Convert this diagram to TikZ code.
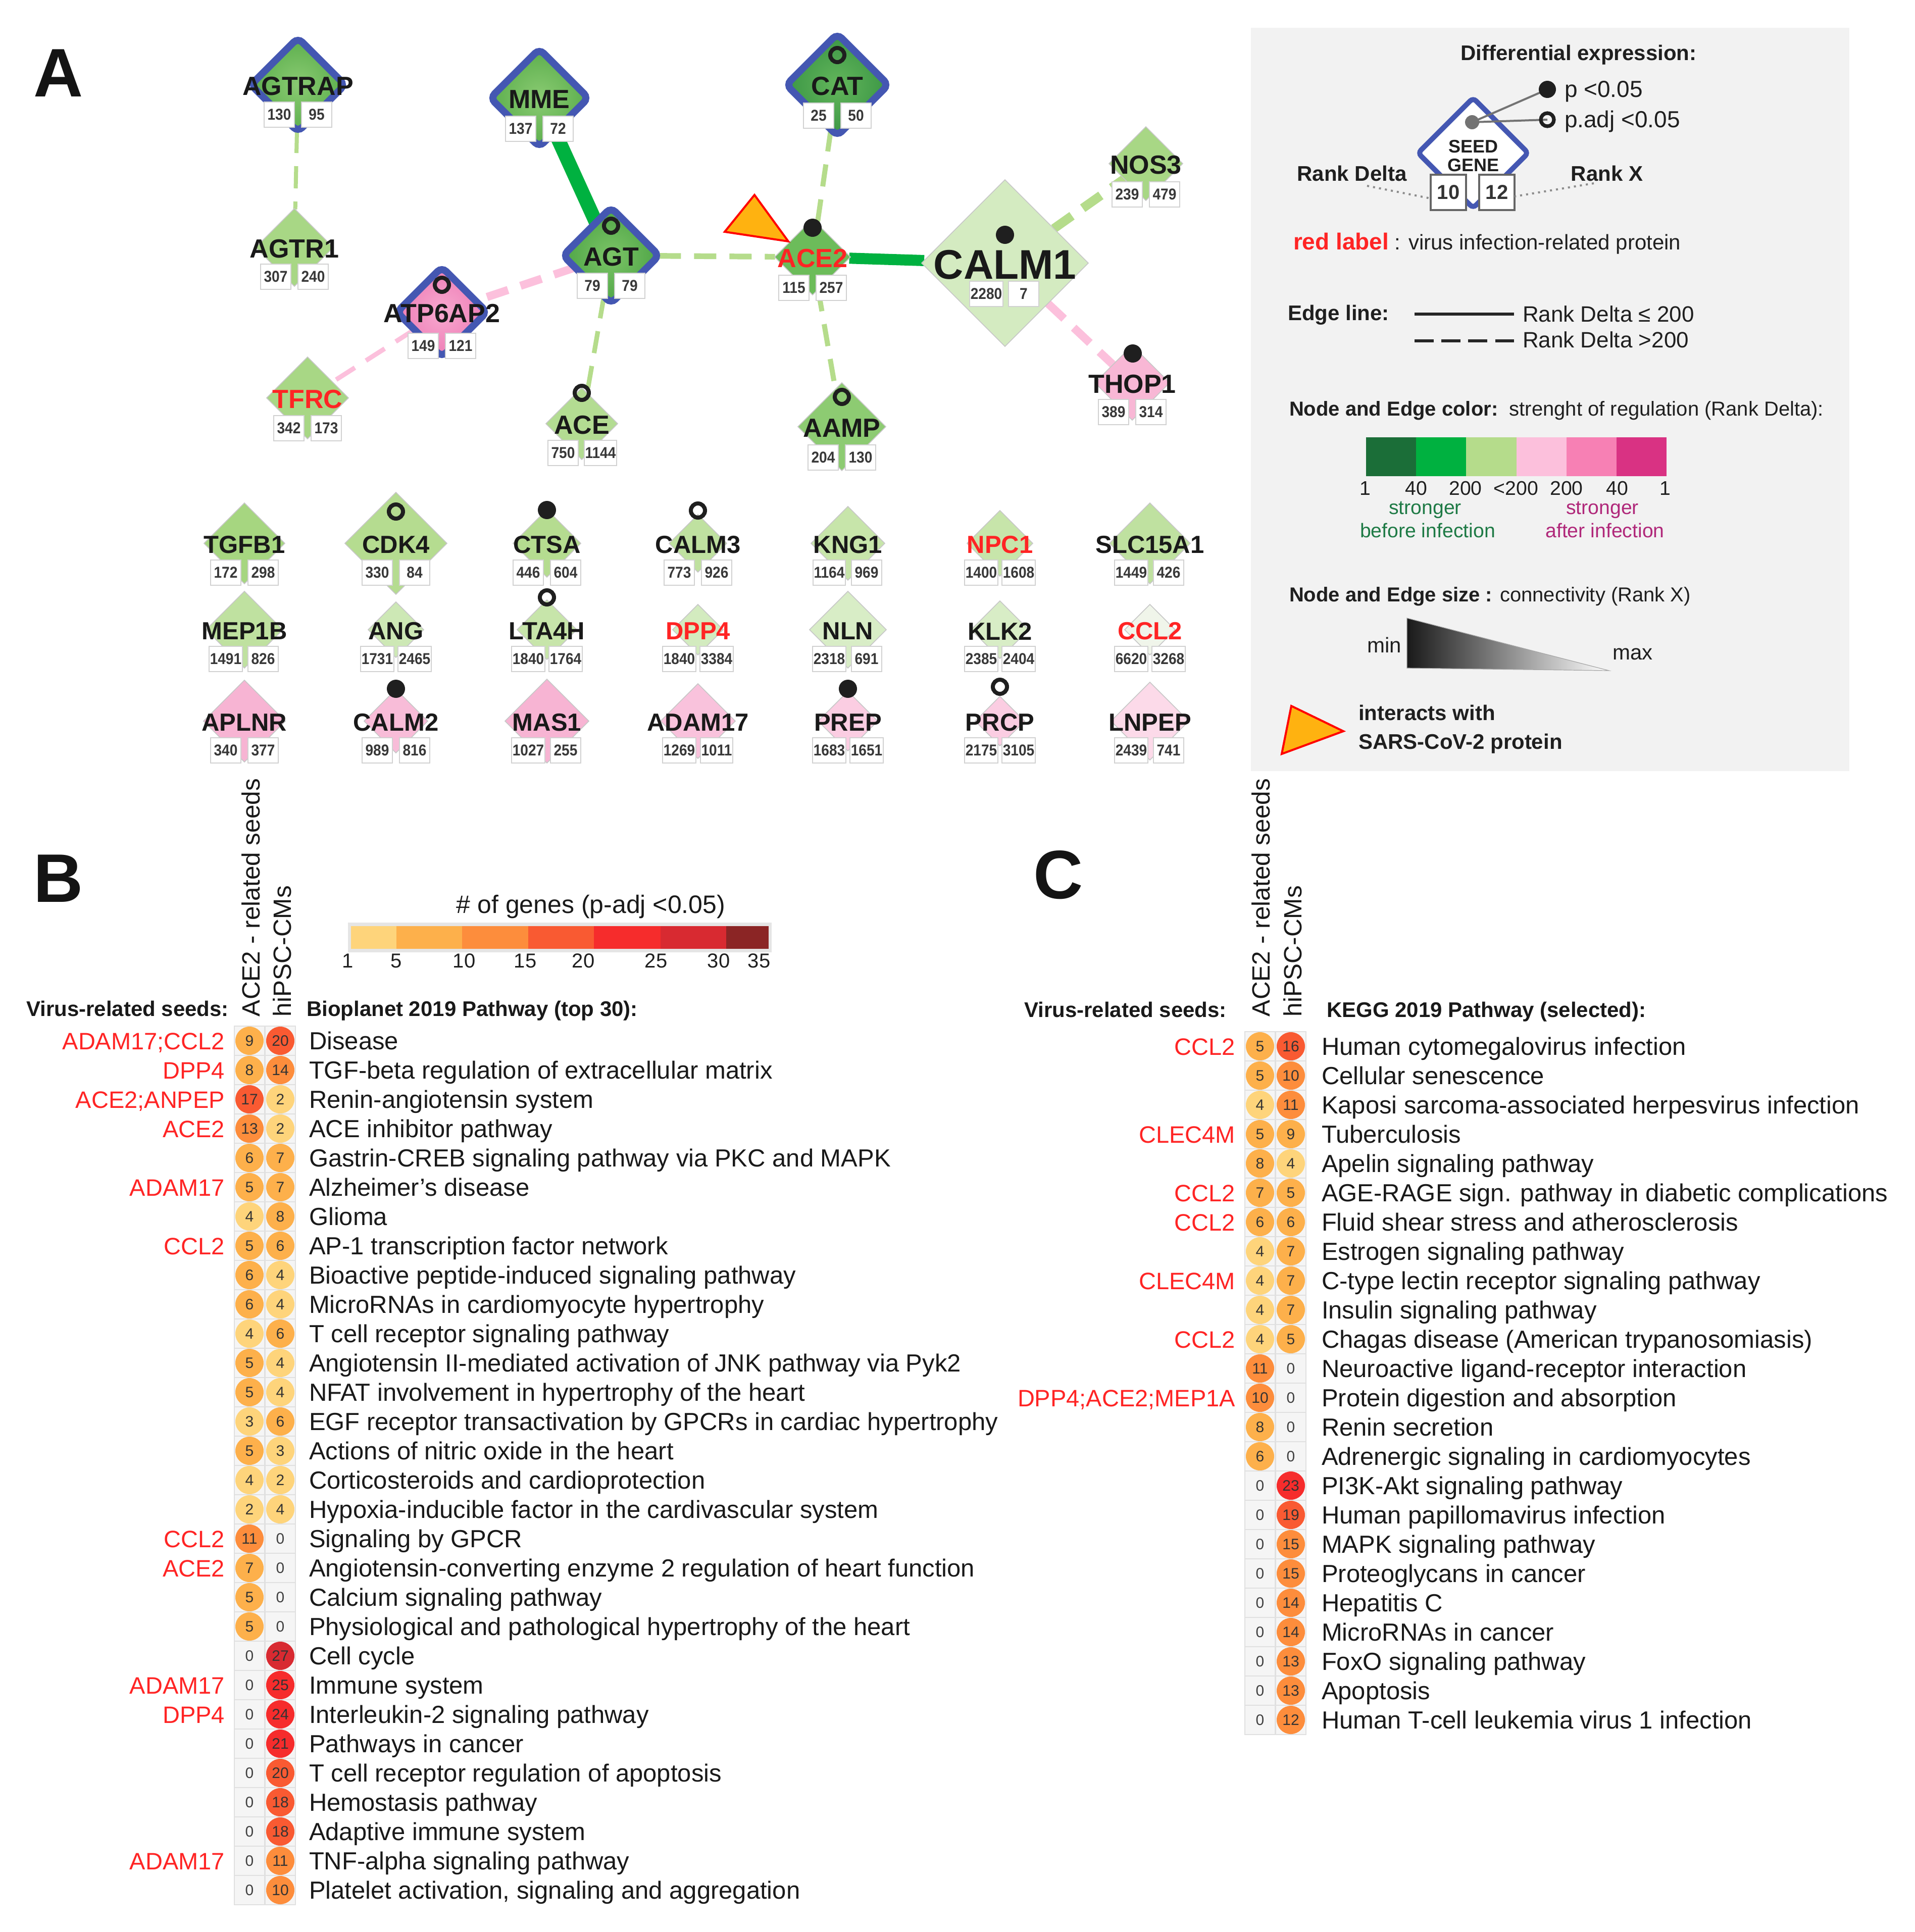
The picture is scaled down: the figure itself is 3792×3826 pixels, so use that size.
\documentclass[tikz,border=0pt]{standalone}
\usepackage{fontspec}
\setmainfont{Liberation Sans}
\newfontfamily\narrowfont[FakeStretch=0.9]{Liberation Sans}
\usetikzlibrary{shapes.geometric,backgrounds}
\pgfdeclarelayer{bottom}
\pgfsetlayers{bottom,background,main}
\newcommand\fsz[1]{\fontsize{#1pt}{#1pt}\selectfont}
\definecolor{seedblue}{HTML}{4457B2}
\definecolor{dkgreen}{HTML}{1B6E38}
\definecolor{mdgreen}{HTML}{00B140}
\definecolor{ltgreen}{HTML}{B5DC8B}
\definecolor{ltpink}{HTML}{FCC0DC}
\definecolor{mdpink}{HTML}{F780B4}
\definecolor{magent}{HTML}{D93283}
\definecolor{vred}{HTML}{FF2424}
\definecolor{legbg}{HTML}{F2F2F2}
\definecolor{orng}{HTML}{FFB210}
\definecolor{befgreen}{HTML}{1E7A45}
\definecolor{aftmag}{HTML}{B0287A}
\definecolor{h1}{HTML}{FED47B}
\definecolor{h2}{HTML}{FDB04B}
\definecolor{h3}{HTML}{FD8D3C}
\definecolor{h4}{HTML}{F95A32}
\definecolor{h5}{HTML}{F62C2C}
\definecolor{h6}{HTML}{D82A31}
\definecolor{h7}{HTML}{8B2525}
\definecolor{sg1}{HTML}{8ACB72}
\definecolor{sg2}{HTML}{5CAE4D}
\definecolor{ct1}{HTML}{63B65B}
\definecolor{ct2}{HTML}{3B9645}
\definecolor{ag1}{HTML}{7BC466}
\definecolor{ag2}{HTML}{4FA547}
\definecolor{pk1}{HTML}{F7A9CF}
\definecolor{pk2}{HTML}{EE7DB6}
\definecolor{gA}{HTML}{A6D680}
\definecolor{gB}{HTML}{B5DC90}
\definecolor{gC}{HTML}{BFE1A0}
\definecolor{gD}{HTML}{C7E5AA}
\definecolor{gE}{HTML}{CDE8B5}
\definecolor{gF}{HTML}{D3EBBF}
\definecolor{gG}{HTML}{D8EDC6}
\definecolor{gH}{HTML}{F0F5EA}
\definecolor{pA}{HTML}{F7B4D3}
\definecolor{pB}{HTML}{F8BCD8}
\definecolor{pC}{HTML}{F9C2DC}
\definecolor{pD}{HTML}{FBCDE2}
\definecolor{pE}{HTML}{FCDAE9}
\definecolor{nA}{HTML}{A8D785}
\definecolor{nB}{HTML}{B3DC92}
\definecolor{nC}{HTML}{6CBC5A}
\definecolor{nD}{HTML}{8DCB72}
\definecolor{nE}{HTML}{F8B7D5}
\definecolor{nF}{HTML}{D4EBC1}

\tikzset{
  every node/.style={inner sep=0pt, outer sep=0pt},
  seed/.style={diamond, aspect=1, draw=seedblue, line width=3.5pt, rounded corners=3pt},
  nonseed/.style={diamond, aspect=1, draw=black!22, line width=0.4pt},
  glab/.style={font=\fsz{13}\bfseries, text=black!90},
  glabg/.style={font=\fsz{12.25}\bfseries, text=black!90},
  numbox/.style={draw=black!18, fill=white, line width=0.5pt, minimum width=15pt, minimum height=12.5pt, inner xsep=0.4pt, font=\narrowfont\fsz{7.8}\bfseries, text=black!78},
  pdot/.style={circle, fill=black!88, minimum size=9pt},
  padj/.style={circle, draw=black!88, line width=2pt, minimum size=7pt},
  dashedge/.style={dash pattern=on 11pt off 6.5pt},
  lgt/.style={font=\fsz{10.5}, text=black!88},
  lgb/.style={font=\fsz{10.5}\bfseries, text=black!88},
  hbg/.style={rectangle, minimum width=15pt, minimum height=14.5pt, fill=black!4, draw=black!12, line width=0.4pt},
  hcirc/.style={circle, minimum size=14pt, font=\fsz{7.5}, text=black!80},
  zerotxt/.style={font=\fsz{7.5}, text=black!75},
  seedtxt/.style={font=\fsz{11.75}, text=vred},
  pwtxt/.style={font=\fsz{12.25}, text=black!90},
  rothead/.style={rotate=90, font=\fsz{12.4}, text=black!90},
  hdr/.style={font=\fsz{10.5}\bfseries, text=black!90},
  panel/.style={font=\fsz{34}\bfseries, text=black!92}
}

\newcommand\mkdia[6]{\node[#5, minimum size=#4*0.5pt-1.5pt, #6] (#1) at (#2,#3) {};}
\newcommand\mkinfo[8]{%
  \node[#5] (#1-l) at (#2,#3+3) {#4};
  \node[numbox] (#1-d) at (#2-37,#3+#8) {#6};
  \node[numbox] (#1-x) at (#2+37,#3+#8) {#7};}
\newcommand\gridgene[8]{%
  \mkdia{#1}{#2}{#3}{#4}{nonseed}{fill=#5}
  \mkinfo{#1}{#2}{#3}{#6}{glabg}{#7}{#8}{58}}
\newcommand\mkcell[4]{%
  \node[hbg] (#1g) at (#2,#3) {};
  \ifnum#4=0\relax
    \node[zerotxt] (#1) at (#2,#3) {0};
  \else
    \ifnum#4<5 \def\hc{h1}\else\ifnum#4<10 \def\hc{h2}\else\ifnum#4<16 \def\hc{h3}\else\ifnum#4<21 \def\hc{h4}\else\ifnum#4<26 \def\hc{h5}\else\ifnum#4<31 \def\hc{h6}\else\def\hc{h7}\fi\fi\fi\fi\fi\fi
    \node[hcirc, fill=\hc] (#1) at (#2,#3) {#4};
  \fi}

\begin{document}
\begin{tikzpicture}[x=0.25pt, y=-0.25pt]
\useasboundingbox (0,0) rectangle (3792,3826);
\begin{pgfonlayer}{bottom}
\fill[white] (0,0) rectangle (3792,3826);
\end{pgfonlayer}

% ---------------- Panel A ----------------
\node[panel, anchor=base west] (labA) at (66,191) {A};

% seeds
\mkdia{AGTRAP}{590}{168}{96}{seed}{inner color=sg1, outer color=sg2}
\mkinfo{AGTRAP}{590}{168}{AGTRAP}{glab}{130}{95}{59}
\mkdia{MME}{1068}{194}{100}{seed}{inner color=sg1, outer color=sg2}
\mkinfo{MME}{1068}{194}{MME}{glab}{137}{72}{61}
\mkdia{CAT}{1658}{168}{104}{seed}{inner color=ct1, outer color=ct2}
\mkinfo{CAT}{1658}{168}{CAT}{glab}{25}{50}{61}
\mkdia{AGT}{1210}{506}{98}{seed}{inner color=ag1, outer color=ag2}
\mkinfo{AGT}{1210}{506}{AGT}{glab}{79}{79}{60}
\mkdia{ATP6AP2}{875}{618}{92}{seed}{inner color=pk1, outer color=pk2}
\mkinfo{ATP6AP2}{875}{618}{ATP6AP2}{glab}{149}{121}{67}
% non seeds
\mkdia{AGTR1}{583}{490}{80}{nonseed}{fill=nA}
\mkinfo{AGTR1}{583}{490}{AGTR1}{glab}{307}{240}{58}
\mkdia{TFRC}{609}{788}{84}{nonseed}{fill=nA}
\mkinfo{TFRC}{609}{788}{\color{vred}TFRC}{glab}{342}{173}{60}
\mkdia{ACE}{1152}{839}{74}{nonseed}{fill=nB}
\mkinfo{ACE}{1152}{839}{ACE}{glab}{750}{1144}{58}
\mkdia{ACE2}{1609}{509}{78}{nonseed}{fill=nC}
\mkinfo{ACE2}{1609}{509}{\color{vred}ACE2}{glab}{115}{257}{61}
\mkdia{AAMP}{1667}{845}{90}{nonseed}{fill=nD}
\mkinfo{AAMP}{1667}{845}{AAMP}{glab}{204}{130}{61}
\mkdia{NOS3}{2269}{324}{76}{nonseed}{fill=nA}
\mkinfo{NOS3}{2269}{324}{NOS3}{glab}{239}{479}{61}
\mkdia{THOP1}{2242}{758}{77}{nonseed}{fill=nE}
\mkinfo{THOP1}{2242}{758}{THOP1}{glab}{389}{314}{58}
\mkdia{CALM1}{1990}{521}{168}{nonseed}{fill=nF}
\mkinfo{CALM1}{1990}{521}{\fsz{20.5}CALM1}{glab}{2280}{7}{61}

\node[padj] (AGT-m) at (1210,447) {};
\node[padj] (CAT-m) at (1658,109) {};
\node[padj] (ATP6AP2-m) at (875,564) {};
\node[padj] (ACE-m) at (1152,778) {};
\node[padj] (AAMP-m) at (1667,786) {};
\node[pdot] (ACE2-m) at (1609,451) {};
\node[pdot] (CALM1-m) at (1990,465) {};
\node[pdot] (THOP1-m) at (2243,700) {};

\draw[fill=orng, draw=red, line width=1pt, line join=miter] (1494,386) -- (1435,459) -- (1561,478) -- cycle;

\begin{scope}[on background layer]
\draw[ltgreen, line width=2pt, dashedge] (AGTRAP) -- (AGTR1);
\draw[mdgreen, line width=7pt] (MME) -- (AGT);
\draw[ltpink, line width=4pt, dashedge] (AGT) -- (ATP6AP2);
\draw[ltpink, line width=2.3pt, dashedge] (ATP6AP2) -- (TFRC);
\draw[ltgreen, line width=2.3pt, dashedge] (AGT) -- (ACE);
\draw[ltgreen, line width=2.8pt, dashedge] (AGT) -- (ACE2);
\draw[ltgreen, line width=2.5pt, dashedge] (CAT) -- (ACE2);
\draw[ltgreen, line width=2.5pt, dashedge] (ACE2) -- (AAMP);
\draw[mdgreen, line width=5.5pt] (ACE2) -- (CALM1);
\draw[ltgreen, line width=4.5pt, dashedge] (CALM1) -- (NOS3);
\draw[ltpink, line width=4pt, dashedge] (CALM1) -- (THOP1);
\end{scope}

% grid
\gridgene{TGFB1}{484}{1076}{83}{gA}{TGFB1}{172}{298}
\gridgene{CDK4}{784}{1076}{104}{gB}{CDK4}{330}{84}
\gridgene{CTSA}{1083}{1076}{70}{gB}{CTSA}{446}{604}
\gridgene{CALM3}{1382}{1076}{60}{gC}{CALM3}{773}{926}
\gridgene{KNG1}{1679}{1076}{76}{gD}{KNG1}{1164}{969}
\gridgene{NPC1}{1980}{1076}{68}{gD}{\color{vred}NPC1}{1400}{1608}
\gridgene{SLC15A1}{2277}{1076}{83}{gC}{SLC15A1}{1449}{426}
\gridgene{MEP1B}{484}{1247}{79}{gC}{MEP1B}{1491}{826}
\gridgene{ANG}{784}{1247}{58}{gE}{ANG}{1731}{2465}
\gridgene{LTA4H}{1083}{1247}{62}{gD}{LTA4H}{1840}{1764}
\gridgene{DPP4}{1382}{1247}{53}{gF}{\color{vred}DPP4}{1840}{3384}
\gridgene{NLN}{1679}{1247}{79}{gG}{NLN}{2318}{691}
\gridgene{KLK2}{1980}{1247}{60}{gG}{KLK2}{2385}{2404}
\gridgene{CCL2}{2277}{1247}{53}{gH}{\color{vred}CCL2}{6620}{3268}
\gridgene{APLNR}{484}{1428}{84}{pA}{APLNR}{340}{377}
\gridgene{CALM2}{784}{1428}{66}{pB}{CALM2}{989}{816}
\gridgene{MAS1}{1083}{1428}{86}{pA}{MAS1}{1027}{255}
\gridgene{ADAM17}{1382}{1428}{77}{pC}{ADAM17}{1269}{1011}
\gridgene{PREP}{1679}{1428}{62}{pD}{PREP}{1683}{1651}
\gridgene{PRCP}{1980}{1428}{52}{pD}{PRCP}{2175}{3105}
\gridgene{LNPEP}{2277}{1428}{80}{pE}{LNPEP}{2439}{741}
\node[padj] (CDK4-m) at (784,1013) {};
\node[pdot] (CTSA-m) at (1083,1010) {};
\node[padj] (CALM3-m) at (1382,1011) {};
\node[padj] (LTA4H-m) at (1083,1183) {};
\node[pdot] (CALM2-m) at (784,1364) {};
\node[pdot] (PREP-m) at (1679,1364) {};
\node[padj] (PRCP-m) at (1980,1360) {};

% ---------------- Legend ----------------
\fill[legbg] (2477,55) rectangle (3662,1527);
\node[lgb, anchor=base] (ldiff) at (3126,119) {Differential expression:};
\node[diamond, aspect=1, draw=seedblue, line width=2.5pt, fill=white, rounded corners=2pt, minimum size=54.5pt] (lseed) at (2917,303) {};
\node[font=\fsz{9}\bfseries, text=black!88, anchor=base] (lseedt) at (2917,302) {SEED};
\node[font=\fsz{9}\bfseries, text=black!88, anchor=base] (lgenet) at (2917,339) {GENE};
\coordinate (lg) at (2915,242);
\coordinate (lp) at (3064,177);
\coordinate (la) at (3064,237);
\draw[black!55, line width=1pt] (lg) -- (lp);
\draw[black!55, line width=1pt] (lg) -- (la);
\node[circle, fill=black!55, minimum size=7pt] (lgdot) at (lg) {};
\node[pdot, minimum size=8.5pt] (lpdot) at (lp) {};
\node[padj, minimum size=6.5pt, line width=1.8pt] (lpadj) at (la) {};
\node[lgt, font=\fsz{11.5}, anchor=base west] (lp05) at (3098,192) {p <0.05};
\node[lgt, font=\fsz{11.5}, anchor=base west] (lpa05) at (3098,252) {p.adj <0.05};
\node[lgb, anchor=base] (lrdt) at (2677,358) {Rank Delta};
\node[lgb, anchor=base] (lrxt) at (3182,358) {Rank X};
\node[draw=black!60, line width=0.8pt, fill=white, minimum width=17.5pt, minimum height=17.5pt, font=\fsz{10}\bfseries, text=black!80] (l10) at (2868,381) {10};
\node[draw=black!60, line width=0.8pt, fill=white, minimum width=17.5pt, minimum height=17.5pt, font=\fsz{10}\bfseries, text=black!80] (l12) at (2964,381) {12};
\coordinate (lrd) at (2707,368);
\coordinate (lrx) at (3156,363);
\draw[black!45, dotted, line width=1pt] (lrd) -- ([yshift=-3pt]l10.west);
\draw[black!45, dotted, line width=1pt] (lrx) -- ([yshift=-2pt]l12.east);
\node[lgt, anchor=base west] (lred) at (2561,494) {{\color{vred}\fsz{11.5}\bfseries red label} : virus infection-related protein};
\node[lgb, anchor=base west] (ledge) at (2550,634) {Edge line:};
\coordinate (ls1) at (2801,622);
\coordinate (ls2) at (2998,622);
\coordinate (ld1) at (2801,675);
\coordinate (ld2) at (2998,675);
\draw[black!85, line width=1.5pt] (ls1) -- (ls2);
\draw[black!85, line width=1.5pt, dash pattern=on 9.5pt off 3.8pt] (ld1) -- (ld2);
\node[lgt, font=\fsz{11}, anchor=base west] (lrd1) at (3015,637) {Rank Delta ≤ 200};
\node[lgt, font=\fsz{11}, anchor=base west] (lrd2) at (3015,688) {Rank Delta >200};
\node[lgt, font=\fsz{10}, anchor=base west] (lcol) at (2553,823) {{\bfseries Node and Edge color:}\ \ strenght of regulation (Rank Delta):};
\foreach \k/\c in {0/dkgreen,1/mdgreen,2/ltgreen,3/ltpink,4/mdpink,5/magent}
  \fill[\c] (2705+99.2*\k,866) rectangle (2705+99.2*\k+99.2,943);
\foreach \x/\t [count=\n] in {2703/1,2804/40,2902/200,3002/{<200},3102/200,3202/40,3297/1}
  \node[lgt, font=\fsz{9.8}, anchor=base] (ltick\n) at (\x,980) {\t};
\node[font=\fsz{9.8}, text=befgreen, anchor=base] (lsb) at (2822,1018) {stronger};
\node[font=\fsz{9.8}, text=befgreen, anchor=base] (lbi) at (2827,1064) {before infection};
\node[font=\fsz{9.8}, text=aftmag, anchor=base] (lsa) at (3173,1018) {stronger};
\node[font=\fsz{9.8}, text=aftmag, anchor=base] (lai) at (3178,1064) {after infection};
\node[lgt, font=\fsz{10}, anchor=base west] (lsize) at (2553,1191) {{\bfseries Node and Edge size :} connectivity (Rank X)};
\shade[left color=black!90, right color=white, draw=black!35, line width=0.3pt] (2786,1224) -- (2786,1323) -- (3186,1328) -- cycle;
\node[lgt, anchor=base] (lmin) at (2741,1292) {min};
\node[lgt, anchor=base] (lmax) at (3233,1306) {max};
\draw[fill=orng, draw=red, line width=1pt, line join=miter] (2538,1493) -- (2557,1398) -- (2660,1448) -- cycle;
\node[lgb, anchor=base west] (lint1) at (2690,1426) {interacts with};
\node[lgb, anchor=base west] (lint2) at (2690,1483) {SARS-CoV-2 protein};

% ---------------- Panel B ----------------
\node[panel, anchor=base west] (labB) at (66,1786) {B};
\node[rothead, anchor=base west] (bh1) at (514,2013) {ACE2 - related seeds};
\node[rothead, anchor=base west] (bh2) at (576,2013) {hiPSC-CMs};
\node[font=\fsz{12.5}, text=black!90, anchor=base] (bgt) at (1170,1808) {\# of genes (p-adj <0.05)};
\fill[black!10] (689,1827) rectangle (1528,1886);
\foreach \xa/\xb/\c in {695/785/h1,785/915/h2,915/1046/h3,1046/1176/h4,1176/1308/h5,1308/1438/h6,1438/1522/h7}
  \fill[\c] (\xa,1834) rectangle (\xb,1879);
\foreach \x/\t [count=\n] in {689/1,785/5,919/10,1040/15,1155/20,1299/25,1423/30,1503/35}
  \node[font=\fsz{10}, text=black!88, anchor=base] (btick\n) at (\x,1916) {\t};
\node[hdr, anchor=base east] (bvs) at (453,2012) {Virus-related seeds:};
\node[hdr, anchor=base west] (bbp) at (607,2012) {Bioplanet 2019 Pathway (top 30):};
\foreach \i/\va/\vb/\sd/\pw in {
0/9/20/{ADAM17;CCL2}/Disease,
1/8/14/DPP4/TGF-beta regulation of extracellular matrix,
2/17/2/{ACE2;ANPEP}/Renin-angiotensin system,
3/13/2/ACE2/ACE inhibitor pathway,
4/6/7/{}/Gastrin-CREB signaling pathway via PKC and MAPK,
5/5/7/ADAM17/Alzheimer's disease,
6/4/8/{}/Glioma,
7/5/6/CCL2/AP-1 transcription factor network,
8/6/4/{}/Bioactive peptide-induced signaling pathway,
9/6/4/{}/MicroRNAs in cardiomyocyte hypertrophy,
10/4/6/{}/T cell receptor signaling pathway,
11/5/4/{}/Angiotensin II-mediated activation of JNK pathway via Pyk2,
12/5/4/{}/NFAT involvement in hypertrophy of the heart,
13/3/6/{}/EGF receptor transactivation by GPCRs in cardiac hypertrophy,
14/5/3/{}/Actions of nitric oxide in the heart,
15/4/2/{}/Corticosteroids and cardioprotection,
16/2/4/{}/Hypoxia-inducible factor in the cardivascular system,
17/11/0/CCL2/Signaling by GPCR,
18/7/0/ACE2/Angiotensin-converting enzyme 2 regulation of heart function,
19/5/0/{}/Calcium signaling pathway,
20/5/0/{}/Physiological and pathological hypertrophy of the heart,
21/0/27/{}/Cell cycle,
22/0/25/ADAM17/Immune system,
23/0/24/DPP4/Interleukin-2 signaling pathway,
24/0/21/{}/Pathways in cancer,
25/0/20/{}/T cell receptor regulation of apoptosis,
26/0/18/{}/Hemostasis pathway,
27/0/18/{}/Adaptive immune system,
28/0/11/ADAM17/TNF-alpha signaling pathway,
29/0/10/{}/{Platelet activation, signaling and aggregation}}
{
  \pgfmathsetmacro\yy{2061+58*\i}
  \node[seedtxt, anchor=base east] (bs\i) at (445,\yy+17) {\sd};
  \mkcell{ba\i}{494}{\yy}{\va}
  \mkcell{bb\i}{555}{\yy}{\vb}
  \node[pwtxt, anchor=base west] (bp\i) at (612,\yy+17.5) {\pw};
}

% ---------------- Panel C ----------------
\node[panel, anchor=base west] (labC) at (2046,1779) {C};
\node[rothead, anchor=base west] (ch1) at (2514,2013) {ACE2 - related seeds};
\node[rothead, anchor=base west] (ch2) at (2577,2013) {hiPSC-CMs};
\node[hdr, anchor=base east] (cvs) at (2429,2014) {Virus-related seeds:};
\node[hdr, anchor=base west] (ckg) at (2627,2014) {KEGG 2019 Pathway (selected):};
\foreach \i/\va/\vb/\sd/\pw in {
0/5/16/CCL2/Human cytomegalovirus infection,
1/5/10/{}/Cellular senescence,
2/4/11/{}/Kaposi sarcoma-associated herpesvirus infection,
3/5/9/CLEC4M/Tuberculosis,
4/8/4/{}/Apelin signaling pathway,
5/7/5/CCL2/AGE-RAGE sign. pathway in diabetic complications,
6/6/6/CCL2/Fluid shear stress and atherosclerosis,
7/4/7/{}/Estrogen signaling pathway,
8/4/7/CLEC4M/C-type lectin receptor signaling pathway,
9/4/7/{}/Insulin signaling pathway,
10/4/5/CCL2/{Chagas disease (American trypanosomiasis)},
11/11/0/{}/Neuroactive ligand-receptor interaction,
12/10/0/{DPP4;ACE2;MEP1A}/Protein digestion and absorption,
13/8/0/{}/Renin secretion,
14/6/0/{}/Adrenergic signaling in cardiomyocytes,
15/0/23/{}/PI3K-Akt signaling pathway,
16/0/19/{}/Human papillomavirus infection,
17/0/15/{}/MAPK signaling pathway,
18/0/15/{}/Proteoglycans in cancer,
19/0/14/{}/Hepatitis C,
20/0/14/{}/MicroRNAs in cancer,
21/0/13/{}/FoxO signaling pathway,
22/0/13/{}/Apoptosis,
23/0/12/{}/Human T-cell leukemia virus 1 infection}
{
  \pgfmathsetmacro\yy{2072+58*\i}
  \node[seedtxt, anchor=base east] (cs\i) at (2446,\yy+17) {\sd};
  \mkcell{ca\i}{2495}{\yy}{\va}
  \mkcell{cb\i}{2556}{\yy}{\vb}
  \node[pwtxt, anchor=base west] (cp\i) at (2617,\yy+17.5) {\pw};
}
\end{tikzpicture}
\end{document}
